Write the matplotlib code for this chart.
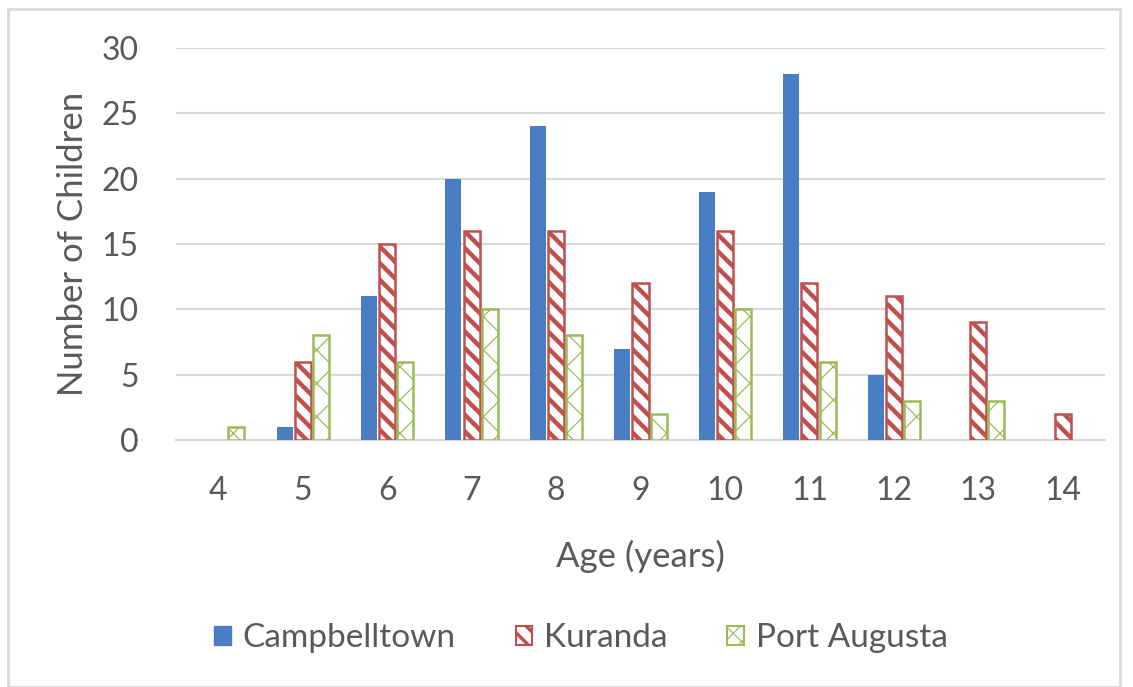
import matplotlib
matplotlib.use("Agg")
import matplotlib.pyplot as plt
import numpy as np
from matplotlib.patches import Patch, Rectangle

ages = [4, 5, 6, 7, 8, 9, 10, 11, 12, 13, 14]
campbelltown = [0, 1, 11, 20, 24, 7, 19, 28, 5, 0, 0]
kuranda = [0, 6, 15, 16, 16, 12, 16, 12, 11, 9, 2]
port_augusta = [1, 8, 6, 10, 8, 2, 10, 6, 3, 3, 0]

BLUE = "#4A7EC4"
RED = "#C0504D"
GREEN = "#9BBB59"
TEXT = "#595959"
GRID = "#D9D9D9"

plt.rcParams["font.family"] = ["Lato", "DejaVu Sans"]


def hatch_width(artist, lw):
    # hatch line width is taken from rcParams at draw time, so wrap the draw
    if hasattr(artist, "set_hatch_linewidth"):
        artist.set_hatch_linewidth(lw)
    orig = artist.draw

    def draw(renderer):
        with plt.rc_context({"hatch.linewidth": lw}):
            orig(renderer)
    artist.draw = draw


def hide_zero(bars, values):
    for b, v in zip(bars, values):
        if v == 0:
            b.set_visible(False)


fig = plt.figure(figsize=(11.33, 6.87), dpi=100)
ax = fig.add_axes([176 / 1133, 1 - 440 / 687, 929 / 1133, 392 / 687])

x = np.arange(len(ages))
w = 0.19
off = 0.215

cb = ax.bar(x - off, campbelltown, w, color=BLUE, zorder=3)
kb = ax.bar(x, kuranda, w, facecolor="white", edgecolor=RED, linewidth=1.8,
            hatch="\\\\", zorder=3)
pb = ax.bar(x + off, port_augusta, w, facecolor="white", edgecolor=GREEN,
            linewidth=1.8, hatch="x", zorder=3)
for b in kb:
    hatch_width(b, 3.2)
for b in pb:
    hatch_width(b, 0.9)
hide_zero(cb, campbelltown)
hide_zero(kb, kuranda)
hide_zero(pb, port_augusta)

ax.set_xlim(-0.5, len(ages) - 0.5)
ax.set_ylim(0, 30)
ax.set_yticks(range(0, 31, 5))
ax.set_xticks(x)
ax.set_xticklabels([str(a) for a in ages])
ax.yaxis.grid(True, color=GRID, linewidth=1.5, zorder=0)
ax.set_axisbelow(True)
for s in ["top", "right", "left"]:
    ax.spines[s].set_visible(False)
ax.spines["bottom"].set_color(GRID)
ax.spines["bottom"].set_linewidth(1.5)
ax.tick_params(axis="both", length=0, labelsize=23, labelcolor=TEXT)
ax.tick_params(axis="y", pad=27)
ax.tick_params(axis="x", pad=26)

ax.set_xlabel("Age (years)", fontsize=25, color=TEXT, labelpad=24)
ax.set_ylabel("Number of Children", fontsize=25, color=TEXT, labelpad=9)

handles = [
    Patch(facecolor=BLUE, edgecolor=BLUE, label="Campbelltown"),
    Patch(facecolor="white", edgecolor=RED, hatch="\\\\", linewidth=1.5, label="Kuranda"),
    Patch(facecolor="white", edgecolor=GREEN, hatch="xx", linewidth=1.5, label="Port Augusta"),
]
leg = fig.legend(handles=handles, loc="center", bbox_to_anchor=(581 / 1133, 1 - 638 / 687),
                 ncol=3, frameon=False, fontsize=24, handlelength=0.5, handleheight=0.5,
                 handletextpad=0.35, columnspacing=1.8, labelcolor=TEXT)
lp = leg.get_patches()
hatch_width(lp[1], 2.5)
hatch_width(lp[2], 0.8)

fig.patches.append(Rectangle((8 / 1133, 0.5 / 687), 1112 / 1133, 678 / 687,
                             transform=fig.transFigure, fill=False,
                             edgecolor=GRID, linewidth=2))

fig.savefig("out.png", dpi=100, facecolor="white")
